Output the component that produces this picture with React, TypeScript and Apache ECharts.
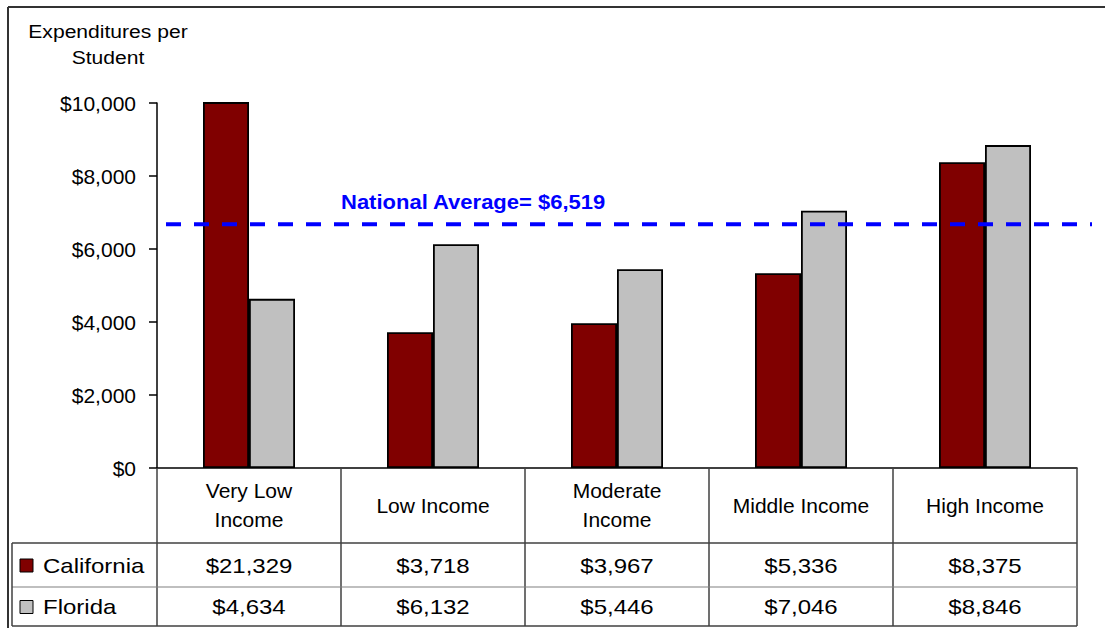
import React, { useEffect, useRef } from "react";
import * as echarts from "echarts";

const categories = ["Very Low\nIncome", "Low Income", "Moderate\nIncome", "Middle Income", "High Income"];
const seriesNames = ["California", "Florida"];
const california = [21329, 3718, 3967, 5336, 8375];
const florida = [4634, 6132, 5446, 7046, 8846];
const nationalAverage = 6519;
const averageLineLevel = 6680; // level where the dashed line is drawn in the picture
const yMin = 0;
const yMax = 10000;
const yInterval = 2000;
const titleText = "Expenditures per\nStudent";

const FONT = "'Liberation Sans', Arial, sans-serif";
const CA_COLOR = "#800000";
const FL_COLOR = "#C0C0C0";
const LINE_COLOR = "#404040";
const STRETCH = 1.2;

const fmt = (v: number) => "$" + v.toLocaleString("en-US");

export default function App() {
  const ref = useRef<HTMLDivElement>(null);
  useEffect(() => {
    if (!ref.current) return;
    const chart = echarts.init(ref.current, undefined, { renderer: "svg" });
    chart.setOption({
      animation: false,
      backgroundColor: "#fff",
      grid: { left: 157, top: 103, right: 28, bottom: 160, containLabel: false },
      xAxis: {
        type: "category",
        data: categories,
        axisLine: { show: true, lineStyle: { color: "#000", width: 1.5 } },
        axisTick: { show: false },
        axisLabel: {
          interval: 0,
          margin: 37,
          verticalAlign: "middle",
          lineHeight: 29,
          fontSize: 21,
          color: "#000",
          fontFamily: FONT,
        },
        splitLine: { show: false },
      },
      yAxis: {
        type: "value",
        min: yMin,
        max: yMax,
        interval: yInterval,
        axisLine: { show: true, lineStyle: { color: "#000", width: 1.5 } },
        axisTick: { show: true, inside: false, length: 8, lineStyle: { color: "#000", width: 1.5 } },
        axisLabel: {
          margin: 21,
          fontSize: 21,
          color: "#000",
          fontFamily: FONT,
          formatter: (v: number) => fmt(v),
        },
        splitLine: { show: false },
      },
      series: [
        {
          name: seriesNames[0],
          type: "bar",
          data: california,
          barGap: "0%",
          barCategoryGap: "50%",
          clip: true,
          itemStyle: { color: CA_COLOR, borderColor: "#000", borderWidth: 1.8 },
        },
        {
          name: seriesNames[1],
          type: "bar",
          data: florida,
          barGap: "0%",
          barCategoryGap: "50%",
          clip: true,
          itemStyle: { color: FL_COLOR, borderColor: "#000", borderWidth: 1.8 },
        },
      ],
    });

    const cx = categories.map((_, i) => chart.convertToPixel({ xAxisIndex: 0 }, i) as number);
    const step = cx[1] - cx[0];
    const bounds = [cx[0] - step / 2, ...cx.map((c) => c + step / 2)];
    const y0 = chart.convertToPixel({ yAxisIndex: 0 }, 0) as number;
    const yAvg = chart.convertToPixel({ yAxisIndex: 0 }, averageLineLevel) as number;

    const headerBottom = 543;
    const row1Bottom = 587;
    const tableBottom = 626;
    const legendLeft = 12;
    const tableRight = bounds[bounds.length - 1];

    const g: any[] = [];
    const line = (x1: number, y1: number, x2: number, y2: number, stroke = LINE_COLOR, lw = 1.5) =>
      g.push({ type: "line", silent: true, z: 50, shape: { x1, y1, x2, y2 }, style: { stroke, lineWidth: lw } });

    // outer frame
    line(8, 7, 1105, 7, "#333", 2);
    line(8, 7, 8, 628, "#333", 2);

    // table grid
    bounds.forEach((bx) => line(bx, y0, bx, tableBottom));
    line(legendLeft, headerBottom, tableRight, headerBottom);
    line(legendLeft, row1Bottom, tableRight, row1Bottom, "#808080", 1.2);
    line(legendLeft, tableBottom, tableRight, tableBottom);
    line(legendLeft, headerBottom, legendLeft, tableBottom);

    const rowY = [(headerBottom + row1Bottom) / 2 + 1, (row1Bottom + tableBottom) / 2 + 1];
    const rows = [california, florida];
    const colors = [CA_COLOR, FL_COLOR];
    rows.forEach((vals, r) => {
      vals.forEach((v, i) => {
        g.push({
          type: "text",
          silent: true,
          z: 50,
          x: cx[i],
          y: rowY[r],
          scaleX: STRETCH,
          style: { text: fmt(v), fill: "#000", fontSize: 20, fontFamily: FONT, align: "center", verticalAlign: "middle" },
        });
      });
      g.push({
        type: "rect",
        silent: true,
        z: 50,
        shape: { x: 20, y: rowY[r] - 7, width: 13, height: 13 },
        style: { fill: colors[r], stroke: "#000", lineWidth: 1 },
      });
      g.push({
        type: "text",
        silent: true,
        z: 50,
        x: 43,
        y: rowY[r],
        scaleX: STRETCH,
        style: { text: seriesNames[r], fill: "#000", fontSize: 20, fontFamily: FONT, align: "left", verticalAlign: "middle" },
      });
    });

    // title
    g.push({
      type: "text",
      silent: true,
      z: 50,
      x: 108,
      y: 44,
      scaleX: 1.11,
      style: { text: titleText, fill: "#000", fontSize: 19, lineHeight: 26, fontFamily: FONT, align: "center", verticalAlign: "middle" },
    });

    // national average dashed line and label
    g.push({
      type: "line",
      silent: true,
      z: 100,
      shape: { x1: 166, y1: yAvg, x2: 1092, y2: yAvg },
      style: { stroke: "#0000FF", lineWidth: 4, lineDash: [15, 13] },
    });
    g.push({
      type: "text",
      silent: true,
      z: 100,
      x: 341,
      y: yAvg - 22,
      scaleX: 1.1,
      style: {
        text: "National Average= " + fmt(nationalAverage),
        fill: "#0000FF",
        fontSize: 20,
        fontWeight: "bold",
        fontFamily: FONT,
        align: "left",
        verticalAlign: "middle",
      },
    });

    chart.setOption({ graphic: g });

    return () => chart.dispose();
  }, []);

  return <div ref={ref} style={{ position: "fixed", left: 0, top: 0, width: 1105, height: 628 }} />;
}
